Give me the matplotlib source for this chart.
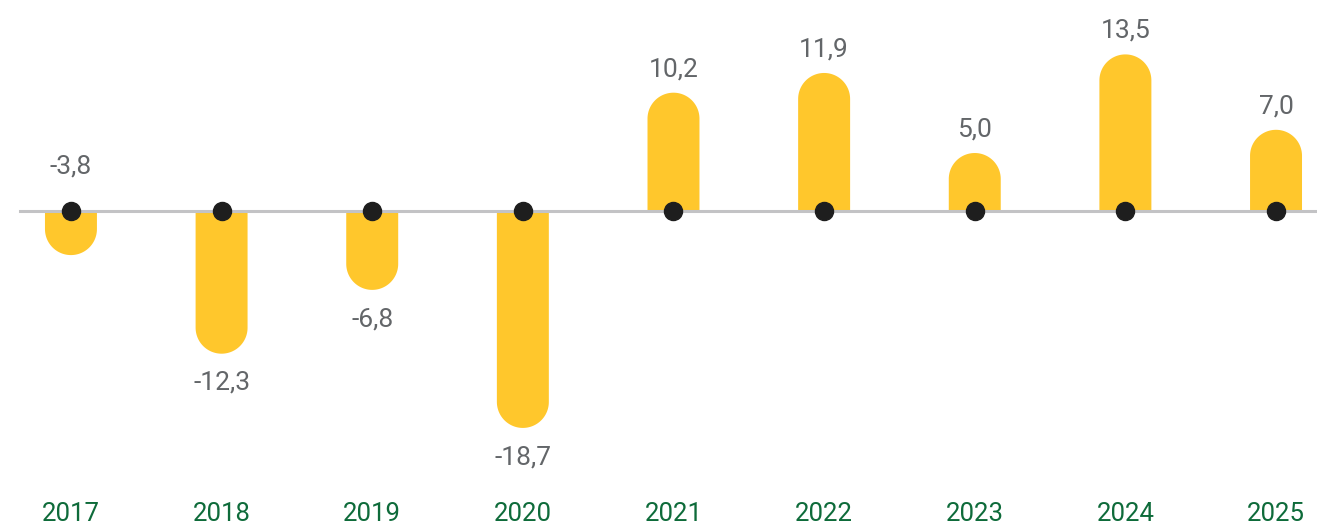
import numpy as np
import matplotlib.pyplot as plt
from matplotlib.patches import Polygon

plt.rcParams['font.family'] = ['Roboto', 'DejaVu Sans']

years = ['2017', '2018', '2019', '2020', '2021', '2022', '2023', '2024', '2025']
values = [-3.8, -12.3, -6.8, -18.7, 10.2, 11.9, 5.0, 13.5, 7.0]
labels = ['-3,8', '-12,3', '-6,8', '-18,7', '10,2', '11,9', '5,0', '13,5', '7,0']

bar_color = '#ffc72c'
label_color = '#636669'
year_color = '#0e6b3a'

fig = plt.figure(figsize=(13.17, 5.27), dpi=100)
ax = fig.add_axes([0, 0, 1, 1])
ax.set_xlim(-0.471, 8.272)
ax.set_ylim(-27.24, 18.19)
ax.axis('off')

# bar width in data units, and radius of the rounded end converted to y units
bar_w = 0.345
fig.canvas.draw()
px_per_x = ax.transData.transform((1, 0))[0] - ax.transData.transform((0, 0))[0]
px_per_y = ax.transData.transform((0, 1))[1] - ax.transData.transform((0, 0))[1]
r_px = bar_w * px_per_x / 2
r_y = r_px / px_per_y

theta = np.linspace(np.pi, 0, 60)

for i, v in enumerate(values):
    sign = 1 if v > 0 else -1
    body = v - sign * r_y
    # bar with a rounded end, as one shape
    arc_x = i + np.cos(theta) * bar_w / 2
    arc_y = body + sign * np.sin(theta) * r_y
    xs = np.concatenate([[i - bar_w / 2], arc_x, [i + bar_w / 2]])
    ys = np.concatenate([[0], arc_y, [0]])
    ax.add_patch(Polygon(np.column_stack([xs, ys]), closed=True, facecolor=bar_color,
                         edgecolor='none', zorder=2))

    # value labels
    if i == 0:
        ax.annotate(labels[i], (i, 0), xytext=(0, 32), textcoords='offset points',
                    ha='center', va='center', fontsize=19, color=label_color)
    elif v > 0:
        ax.annotate(labels[i], (i, v), xytext=(0, 17), textcoords='offset points',
                    ha='center', va='center', fontsize=19, color=label_color)
    else:
        ax.annotate(labels[i], (i, v), xytext=(0, -21), textcoords='offset points',
                    ha='center', va='center', fontsize=19, color=label_color)

    ax.text(i, -26.1, years[i], ha='center', va='center', fontsize=18.5, color=year_color)

ax.axhline(0, xmin=20 / 1317, xmax=1, color='#c3c3c5', lw=2.2, zorder=3)
ax.plot(range(len(values)), [0] * len(values), 'o', color='#1e1e1e', markersize=13, zorder=4)

fig.savefig('out.png', dpi=100)
